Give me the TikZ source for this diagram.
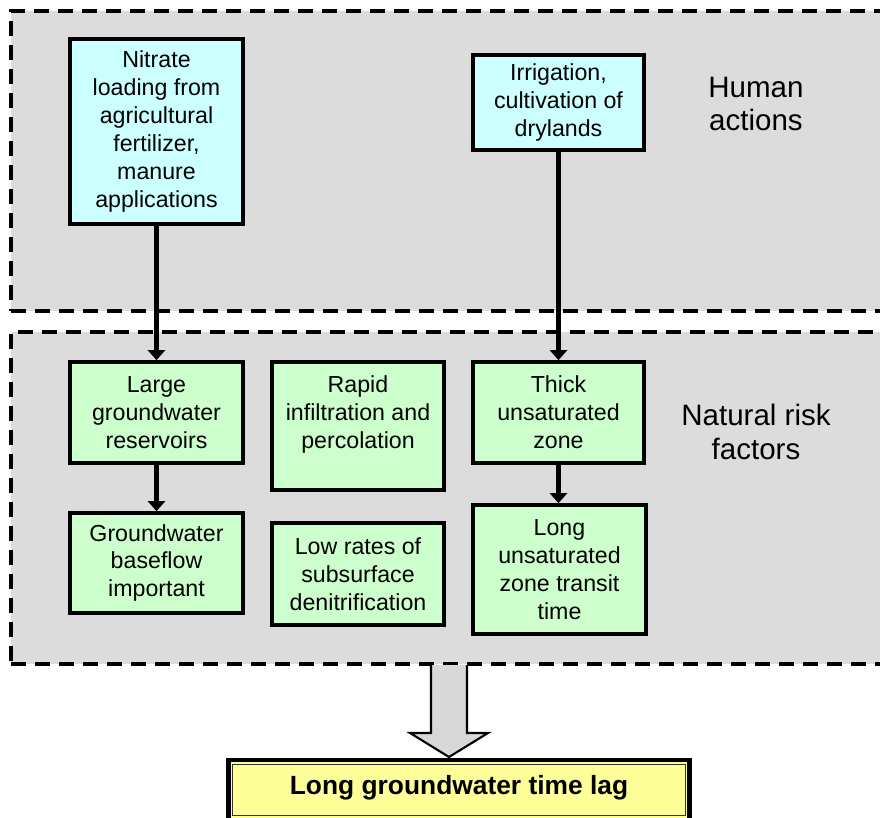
\documentclass[tikz,border=0pt]{standalone}
\usepackage{fontspec}
\setmainfont{Liberation Sans}
\usepackage{xcolor}
\usepackage{tikz}
\usetikzlibrary{arrows.meta,positioning,calc}
\definecolor{panelgray}{RGB}{220,220,220}
\definecolor{humancyan}{RGB}{204,255,255}
\definecolor{riskgreen}{RGB}{204,255,204}
\definecolor{lagyellow}{RGB}{255,255,153}
\definecolor{arrowgray}{RGB}{216,216,216}

\begin{document}
\begin{tikzpicture}[x=0.02cm,y=-0.02cm,font=\fontsize{13.2}{15.9}\selectfont]
\tikzset{panel/.style={draw=black,fill=panelgray,line width=2pt,dash pattern=on 0.3cm off 0.18cm,inner sep=0pt},
  box/.style={draw=black,line width=2.1pt,align=center,inner sep=2pt},
  human/.style={box,fill=humancyan},
  risk/.style={box,fill=riskgreen},
  side/.style={font=\fontsize{16.8}{19.3}\selectfont,align=center},
  arr/.style={line width=2.5pt,-{Triangle[length=0.2cm,width=0.34cm]}}}
\useasboundingbox (0,0) rectangle (880,818);
\clip (0,0) rectangle (880,818);
% panels
\node[panel,minimum width=17.78cm,minimum height=6cm] (humanpanel) at (455.5,161){};
\node[panel,minimum width=17.78cm,minimum height=6.64cm] (riskpanel) at (455.5,498){};
\node[side] (humanlbl) at (756,104){Human\\actions};
\node[side] (risklbl) at (756,432){Natural risk\\factors};
% human actions
\node[human,minimum width=3.46cm,minimum height=3.7cm] (nitrate) at (156.5,131.5){Nitrate\\loading from\\agricultural\\fertilizer,\\manure\\applications};
\node[human,minimum width=3.42cm,minimum height=1.9cm] (irrig) at (558.5,102.5){Irrigation,\\cultivation of\\drylands};
% natural risk factors
\node[risk,minimum width=3.46cm,minimum height=2.02cm] (large) at (156.5,412.5){Large\\groundwater\\reservoirs};
\node[risk,minimum width=3.44cm,minimum height=2.56cm] (rapid) at (358,426){Rapid\\infiltration and\\percolation\\ \mbox{}};
\node[risk,minimum width=3.42cm,minimum height=2.02cm] (thick) at (558.5,412.5){Thick\\unsaturated\\zone};
\node[risk,minimum width=3.46cm,minimum height=2.0cm] (base) at (156.5,563){Groundwater\\baseflow\\important};
\node[risk,minimum width=3.44cm,minimum height=2.04cm] (denit) at (358,574){Low rates of\\subsurface\\denitrification};
\node[risk,minimum width=3.46cm,minimum height=2.58cm] (transit) at (559.5,569.5){Long\\unsaturated\\zone transit\\time};
\foreach \a/\b in {nitrate/large,irrig/thick,large/base,thick/transit}
  \draw[arr] (\a.south) -- (\a.south |- \b.north);
% result
\node[draw=black,fill=lagyellow,line width=2.8pt,minimum width=9.24cm,minimum height=1.2cm,inner sep=0pt] (lag) at (459,790){};
\draw[black!80,line width=0.6pt] ([shift={(7,7)}]lag.north west) rectangle ([shift={(-7,-7)}]lag.south east);
\node[font=\fontsize{15}{18}\selectfont\bfseries] (lagtxt) at (459,788){Long groundwater time lag};
\coordinate (bigfrom) at (449,665);
\coordinate (bigto) at (449,757);
\draw[fill=arrowgray,line width=1.2pt,line join=miter]
  ($(bigfrom)+(-18,0)$) -- ($(bigto)+(-18,-24)$) -- ($(bigto)+(-39,-24)$) -- (bigto)
  -- ($(bigto)+(39,-24)$) -- ($(bigto)+(18,-24)$) -- ($(bigfrom)+(18,0)$);
\end{tikzpicture}
\end{document}
